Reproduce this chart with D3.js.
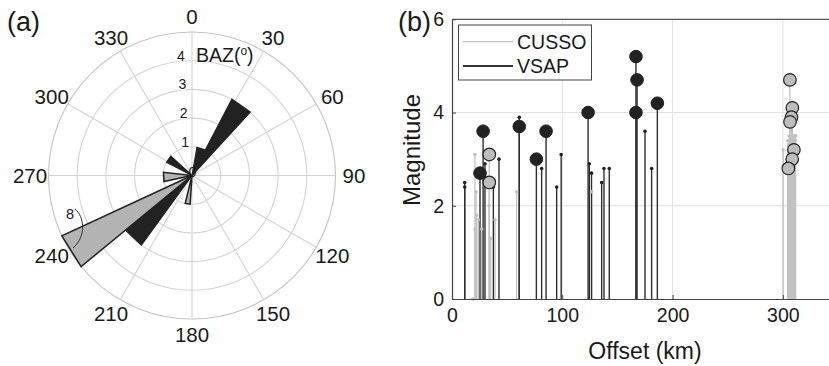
<!DOCTYPE html>
<html>
<head>
<meta charset="utf-8">
<script src="https://cdn.jsdelivr.net/npm/d3@7/dist/d3.min.js"></script>
<style>
  html, body { margin: 0; padding: 0; background: #fff; }
  svg { display: block; font-family: "Liberation Sans", Arial, Helvetica, sans-serif; }
</style>
</head>
<body>
<svg id="fig" width="829" height="366"></svg>
<script>
// ---------- Panel (a): back-azimuth rose (degrees clockwise from north) ----------
const vsapBinStart = [10, 27.6, 297.5, 216];
const vsapBinEnd   = [27.6, 42.6, 312.5, 230.6];
const vsapBinCount = [1, 3, 1, 3];

const cussoBinStart = [230.6, 257.8, 183.7];
const cussoBinEnd   = [245.1, 276.3, 193.7];
const cussoBinCount = [8, 1, 1];

const angleTicks = [0, 30, 60, 90, 120, 150, 180, 210, 240, 270, 300, 330];
const ringTicks = [1, 2, 3, 4, 5];
const ringLabels = [0, 1, 2, 3, 4];
const clippedNote = "8";

// ---------- Panel (b): magnitude vs offset ----------
const vsapOffset = [11.5, 11.5, 29.9, 37.5, 42.6, 61.0, 81.3, 94.9, 99.0, 124.5, 126.5, 135.7, 137.8, 142.6, 175.0, 181.0];
const vsapMag    = [2.5, 2.4, 2.9, 2.4, 3.0, 3.9, 2.8, 2.4, 3.1, 2.9, 2.7, 2.5, 2.8, 2.8, 3.6, 2.8];

const vsapBigOffset = [25.4, 28.2, 61.0, 76.5, 85.3, 123.4, 166.8, 167.8, 166.8, 186.2];
const vsapBigMag    = [2.7, 3.6, 3.7, 3.0, 3.6, 4.0, 5.2, 4.7, 4.0, 4.2];

const cussoOffset = [18.8, 20.8, 21.8, 22.4, 20.8, 23.9, 27.0, 33.8, 35.0, 39.0, 58.6, 126.6, 300.3,
  304.2, 304.6, 305.0, 305.3, 305.7, 306.0, 306.3, 306.7, 307.0, 307.3, 307.7,
  308.0, 308.3, 308.7, 309.0, 309.3, 309.7, 310.0, 310.4, 310.8, 311.2, 311.6];
const cussoMag    = [0.0, 3.1, 2.3, 1.8, 1.5, 1.7, 1.5, 2.0, 1.3, 1.7, 2.3, 2.3, 3.2,
  3.0, 3.4, 2.9, 3.3, 3.5, 3.2, 3.4, 3.1, 3.5, 3.3, 3.6,
  3.4, 3.2, 3.5, 3.3, 3.4, 3.1, 3.5, 3.2, 3.5, 3.4, 3.5];

const cussoBigOffset = [33.8, 33.8, 306.4, 308.6, 307.8, 306.5, 310.0, 308.5, 305.0];
const cussoBigMag    = [3.1, 2.5, 4.7, 4.1, 3.9, 3.8, 3.2, 3.0, 2.8];

const xTicks = [0, 100, 200, 300];
const yTicks = [0, 2, 4, 6];
const seriesNames = ["CUSSO", "VSAP"];

const BLACK = "#222222";
const GRID = "#d4d4d4";
const INK = "#1a1a1a";

const svg = d3.select("#fig");

// ================= Panel (a) =================
const cx = 192, cy = 175.5, R = 143.5;
const rScale = d3.scaleLinear().domain([0, 5]).range([0, R]).clamp(true);
const rad = d => d * Math.PI / 180;
const px = (r, deg) => cx + r * Math.sin(rad(deg));
const py = (r, deg) => cy - r * Math.cos(rad(deg));

const pa = svg.append("g");

// rings
pa.selectAll("circle.ring").data(ringTicks).join("circle")
  .attr("cx", cx).attr("cy", cy).attr("r", d => rScale(d))
  .attr("fill", "none").attr("stroke", d => d === 5 ? "#c4c4c4" : GRID).attr("stroke-width", 1.1);

// spokes
pa.selectAll("line.spoke").data(angleTicks).join("line")
  .attr("x1", cx).attr("y1", cy)
  .attr("x2", d => px(R, d)).attr("y2", d => py(R, d))
  .attr("stroke", GRID).attr("stroke-width", 1.1);

// angle labels
pa.selectAll("text.ang").data(angleTicks).join("text")
  .attr("x", d => px(162, d)).attr("y", d => py(159, d))
  .attr("text-anchor", "middle").attr("dominant-baseline", "central")
  .attr("font-size", 20.5).attr("fill", INK)
  .text(d => d);

// wedge path for one bin
function wedge(a0, a1, v) {
  const r = rScale(v);
  return `M${cx},${cy}L${px(r, a0)},${py(r, a0)}L${px(r, a1)},${py(r, a1)}Z`;
}
const vsapBins = vsapBinStart.map((s, i) => ({ s, e: vsapBinEnd[i], v: vsapBinCount[i] }));
const cussoBins = cussoBinStart.map((s, i) => ({ s, e: cussoBinEnd[i], v: cussoBinCount[i] }));

pa.selectAll("path.vsap").data(vsapBins).join("path")
  .attr("d", d => wedge(d.s, d.e, d.v))
  .attr("fill", BLACK).attr("stroke", BLACK).attr("stroke-width", 1.2).attr("stroke-linejoin", "miter");
pa.selectAll("path.cusso").data(cussoBins).join("path")
  .attr("d", d => wedge(d.s, d.e, d.v))
  .attr("fill", "#b3b3b3").attr("stroke", BLACK).attr("stroke-width", 1.5).attr("stroke-linejoin", "miter");

// ring labels (drawn over the wedges)
pa.selectAll("text.rl").data(ringLabels).join("text")
  .attr("x", d => d === 0 ? cx + 0.5 : cx - 5.5 - 0.049 * rScale(d))
  .attr("y", d => cy - rScale(d) + (d === 0 ? 1.5 : 0))
  .attr("text-anchor", "middle")
  .attr("font-size", 14).attr("fill", INK)
  .attr("stroke", d => d === 0 ? "none" : "#fff").attr("stroke-width", 2.5)
  .attr("paint-order", "stroke")
  .text(d => d);

// axis caption
const baz = pa.append("text").attr("x", 196).attr("y", 62)
  .attr("font-size", 19.5).attr("fill", INK);
baz.append("tspan").text("BAZ(");
baz.append("tspan").attr("font-size", 12).attr("dy", -7).text("o");
baz.append("tspan").attr("dy", 7).text(")");

// note on the clipped bin
pa.append("text").attr("x", 70).attr("y", 219).attr("text-anchor", "middle")
  .attr("font-size", 14.5).attr("fill", INK).text(clippedNote);
pa.append("path").attr("d", "M75,209 C84,216 87,236 73,248")
  .attr("fill", "none").attr("stroke", "#333").attr("stroke-width", 1);

svg.append("text").attr("x", 7).attr("y", 31).attr("font-size", 27).attr("fill", INK).text("(a)");

// ================= Panel (b) =================
const plotL = 452, plotT = 19.3, plotB = 299, plotR = 838;
const x = d3.scaleLinear().domain([0, 350]).range([plotL, plotR]);
const y = d3.scaleLinear().domain([0, 6]).range([plotB, plotT]);

const pb = svg.append("g");

// grid
pb.selectAll("line.gx").data(xTicks.filter(d => d > 0)).join("line")
  .attr("x1", d => x(d)).attr("x2", d => x(d)).attr("y1", plotT).attr("y2", plotB)
  .attr("stroke", "#e2e2e2").attr("stroke-width", 1);
pb.selectAll("line.gy").data(yTicks.filter(d => d > 0 && d < 6)).join("line")
  .attr("x1", plotL).attr("x2", plotR).attr("y1", d => y(d)).attr("y2", d => y(d))
  .attr("stroke", "#e2e2e2").attr("stroke-width", 1);

const cusso = cussoOffset.map((o, i) => ({ o, m: cussoMag[i] }));
const vsap = vsapOffset.map((o, i) => ({ o, m: vsapMag[i] }));
const cussoBig = cussoBigOffset.map((o, i) => ({ o, m: cussoBigMag[i] }));
const vsapBig = vsapBigOffset.map((o, i) => ({ o, m: vsapBigMag[i] }));

// stems
function stems(data, color, w) {
  pb.append("g").selectAll("line").data(data).join("line")
    .attr("x1", d => x(d.o)).attr("x2", d => x(d.o))
    .attr("y1", y(0)).attr("y2", d => y(d.m))
    .attr("stroke", color).attr("stroke-width", w);
}
stems(cusso.concat(cussoBig), "#c2c2c2", 1.3);
stems(vsap.concat(vsapBig), "#2e2e2e", 1.4);

// small markers at stem tips
pb.append("g").selectAll("circle").data(cusso).join("circle")
  .attr("cx", d => x(d.o)).attr("cy", d => y(d.m)).attr("r", 1.8).attr("fill", "#c2c2c2");
pb.append("g").selectAll("circle").data(vsap).join("circle")
  .attr("cx", d => x(d.o)).attr("cy", d => y(d.m)).attr("r", 1.8).attr("fill", BLACK);

// large markers
pb.append("g").selectAll("circle").data(vsapBig).join("circle")
  .attr("cx", d => x(d.o)).attr("cy", d => y(d.m)).attr("r", 6.3)
  .attr("fill", BLACK).attr("stroke", BLACK).attr("stroke-width", 1);
pb.append("g").selectAll("circle").data(cussoBig).join("circle")
  .attr("cx", d => x(d.o)).attr("cy", d => y(d.m)).attr("r", 6.3)
  .attr("fill", "#bdbdbd").attr("stroke", BLACK).attr("stroke-width", 1.2);

// axes (inward ticks)
const xAxis = d3.axisBottom(x).tickValues(xTicks).tickFormat(d3.format("d"))
  .tickSizeInner(-4).tickSizeOuter(0).tickPadding(9);
const yAxis = d3.axisLeft(y).tickValues(yTicks).tickFormat(d3.format("d"))
  .tickSizeInner(-4).tickSizeOuter(0).tickPadding(8);
const gx = pb.append("g").attr("transform", `translate(0,${plotB})`).call(xAxis);
const gy = pb.append("g").attr("transform", `translate(${plotL},0)`).call(yAxis);
[gx, gy].forEach(g => {
  g.select(".domain").attr("stroke", "#444").attr("stroke-width", 1.2);
  g.selectAll(".tick line").attr("stroke", "#444");
  g.selectAll(".tick text").attr("font-size", 19.5).attr("fill", INK)
    .attr("font-family", "'Liberation Sans', Arial, sans-serif");
});
// top border of the box
pb.append("line").attr("x1", plotL).attr("x2", plotR).attr("y1", plotT).attr("y2", plotT)
  .attr("stroke", "#555").attr("stroke-width", 1.2);

// axis titles
pb.append("text").attr("x", (plotL + plotR) / 2).attr("y", 359)
  .attr("text-anchor", "middle").attr("font-size", 23).attr("fill", INK).text("Offset (km)");
pb.append("text").attr("transform", `translate(420,150) rotate(-90)`)
  .attr("text-anchor", "middle").attr("font-size", 24).attr("fill", INK).text("Magnitude");

// legend
const lg = pb.append("g");
lg.append("rect").attr("x", 458.5).attr("y", 25).attr("width", 133).attr("height", 55)
  .attr("fill", "#fff").attr("stroke", "#444").attr("stroke-width", 1);
lg.append("line").attr("x1", 463).attr("x2", 513).attr("y1", 41.7).attr("y2", 41.7)
  .attr("stroke", "#c2c2c2").attr("stroke-width", 1.3);
lg.append("line").attr("x1", 463).attr("x2", 513).attr("y1", 66).attr("y2", 66)
  .attr("stroke", "#333").attr("stroke-width", 2);
lg.selectAll("text").data(seriesNames).join("text")
  .attr("x", 517).attr("y", (d, i) => (i === 0 ? 41.7 : 66) + 7)
  .attr("font-size", 19.5).attr("fill", INK).text(d => d);

svg.append("text").attr("x", 398).attr("y", 31).attr("font-size", 27).attr("fill", INK).text("(b)");
</script>
</body>
</html>
